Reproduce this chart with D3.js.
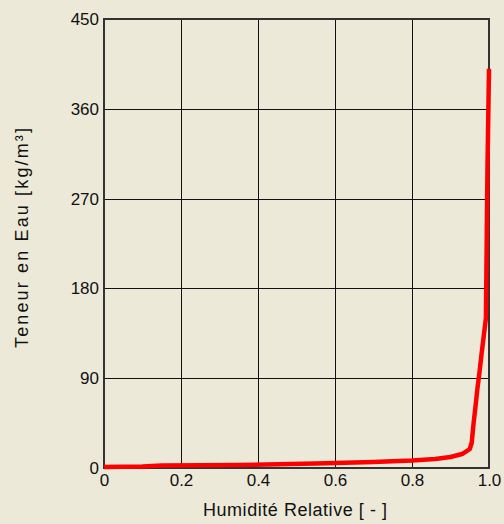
<!DOCTYPE html>
<html><head><meta charset="utf-8">
<script src="https://cdn.jsdelivr.net/npm/d3@7"></script>
<style>html,body{margin:0;padding:0;background:#ECE9D8;}</style>
</head><body>
<script>
const humidity = [0, 0.1, 0.15, 0.35, 0.55, 0.7, 0.8, 0.86, 0.9, 0.93, 0.95, 0.955, 0.96, 0.965, 0.97, 0.975, 0.98, 0.985, 0.992, 0.996, 1.0];
const waterContent = [1, 1.5, 2.5, 3, 4.5, 6, 7.5, 9, 11, 14, 19, 25, 45, 62, 80, 95, 112, 128, 150, 300, 400];
const xTicks = [0, 0.2, 0.4, 0.6, 0.8, 1.0];
const xTickLabels = ["0", "0.2", "0.4", "0.6", "0.8", "1.0"];
const yTicks = [0, 90, 180, 270, 360, 450];
const xTitle = "Humidité Relative [ - ]";
const yTitle = "Teneur en Eau [kg/m³]";

const W = 504, H = 524;
const m = {left:104, top:19, right:489, bottom:468};
const FONT = "Liberation Sans, Arial, sans-serif";
const svg = d3.select("body").append("svg").attr("width", W).attr("height", H)
  .style("font-family", FONT);
svg.append("rect").attr("width", W).attr("height", H).attr("fill", "#ECE9D8");

const x = d3.scaleLinear().domain([0, 1]).range([m.left, m.right]);
const y = d3.scaleLinear().domain([0, 450]).range([m.bottom, m.top]);

// grid
svg.append("g").selectAll("line").data(xTicks).join("line")
  .attr("x1", d => Math.round(x(d)) + 0.5).attr("x2", d => Math.round(x(d)) + 0.5).attr("y1", m.top).attr("y2", m.bottom)
  .attr("stroke", "#111").attr("stroke-width", 1);
svg.append("g").selectAll("line").data(yTicks).join("line")
  .attr("y1", d => Math.round(y(d)) + 0.5).attr("y2", d => Math.round(y(d)) + 0.5).attr("x1", m.left).attr("x2", m.right)
  .attr("stroke", "#111").attr("stroke-width", 1);
// frame
svg.append("rect").attr("x", m.left).attr("y", m.top)
  .attr("width", m.right - m.left).attr("height", m.bottom - m.top)
  .attr("fill", "none").attr("stroke", "#333").attr("stroke-width", 2);

const xAxis = svg.append("g").attr("transform", `translate(0,${m.bottom})`)
  .call(d3.axisBottom(x).tickValues(xTicks).tickFormat((d,i) => xTickLabels[i]).tickSize(0).tickPadding(6));
xAxis.select(".domain").remove();
xAxis.selectAll("text").attr("font-size", 17).attr("fill", "#111").attr("font-family", FONT);

const yAxis = svg.append("g").attr("transform", `translate(${m.left},0)`)
  .call(d3.axisLeft(y).tickValues(yTicks).tickFormat(d3.format("d")).tickSize(0).tickPadding(5));
yAxis.select(".domain").remove();
yAxis.selectAll("text").attr("font-size", 17).attr("fill", "#111").attr("font-family", FONT);

// curve
const line = d3.line().x((d,i) => x(humidity[i])).y(d => y(d));
svg.append("path").datum(waterContent).attr("d", line)
  .attr("fill", "none").attr("stroke", "#FF0000").attr("stroke-width", 4.5)
  .attr("stroke-linejoin", "round");

// titles
svg.append("text").attr("x", 295).attr("y", 516)
  .attr("text-anchor", "middle").attr("font-size", 18).attr("fill", "#111")
  .attr("textLength", 184).attr("lengthAdjust", "spacing").text(xTitle);
svg.append("text").attr("transform", `translate(28,238) rotate(-90)`)
  .attr("text-anchor", "middle").attr("font-size", 18).attr("fill", "#111")
  .attr("textLength", 220).attr("lengthAdjust", "spacing").text(yTitle);
</script>
</body></html>
